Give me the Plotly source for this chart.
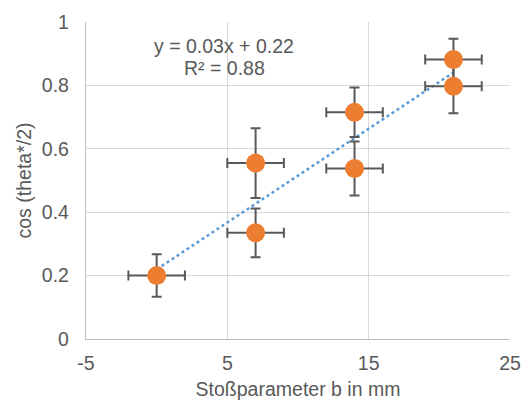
import numpy as np
import plotly.graph_objects as go

b_mm = [0, 7, 7, 14, 14, 21, 21]
cos_half_theta = [0.20, 0.555, 0.335, 0.715, 0.538, 0.882, 0.797]
err_x = [2, 2, 2, 2, 2, 2, 2]
err_y = [0.067, 0.11, 0.077, 0.078, 0.085, 0.065, 0.085]

x_ticks = [-5, 5, 15, 25]
x_tick_labels = ["-5", "5", "15", "25"]
y_ticks = [0, 0.2, 0.4, 0.6, 0.8, 1]
y_tick_labels = ["0", "0.2", "0.4", "0.6", "0.8", "1"]

slope, intercept = np.polyfit(b_mm, cos_half_theta, 1)
pred = np.polyval([slope, intercept], b_mm)
ss_res = np.sum((np.array(cos_half_theta) - pred) ** 2)
ss_tot = np.sum((np.array(cos_half_theta) - np.mean(cos_half_theta)) ** 2)
r2 = 1 - ss_res / ss_tot
x_fit = [min(b_mm), max(b_mm)]
y_fit = [slope * v + intercept for v in x_fit]

text_color = "#595959"
font_family = "Liberation Sans, Arial, sans-serif"

fig = go.Figure()
fig.add_trace(go.Scatter(
    x=x_fit, y=y_fit, mode="lines",
    line=dict(color="#5B9BD5", width=2.5, dash="dot"),
    showlegend=False, hoverinfo="skip",
))
fig.add_trace(go.Scatter(
    x=b_mm, y=cos_half_theta, mode="markers",
    marker=dict(color="#ED7D31", size=19, line=dict(width=0)),
    error_x=dict(type="data", array=err_x, color="#595959", thickness=2, width=5),
    error_y=dict(type="data", array=err_y, color="#595959", thickness=2, width=5),
    showlegend=False,
))

fig.add_annotation(x=4.77, y=0.923, xref="x", yref="y",
                   text=f"y = {slope:.2f}x + {intercept:.2f}", showarrow=False,
                   font=dict(size=19.5, color=text_color, family=font_family))
fig.add_annotation(x=4.77, y=0.854, xref="x", yref="y",
                   text=f"R² = {r2:.2f}", showarrow=False,
                   font=dict(size=19.5, color=text_color, family=font_family))

axis_common = dict(
    showgrid=True, gridcolor="#d9d9d9", gridwidth=1.3,
    showline=True, linecolor="#bfbfbf", linewidth=1.3,
    zeroline=False, mirror=False,
    ticks="outside", tickcolor="rgba(0,0,0,0)",
    tickfont=dict(size=19.5, color=text_color, family=font_family),
    automargin=False, ticklabeloverflow="allow",
)

fig.update_xaxes(range=[-5, 25], tickvals=x_ticks, ticktext=x_tick_labels, ticklen=6,
                 title=dict(text="Stoßparameter b in mm", standoff=9,
                            font=dict(size=19.5, color=text_color, family=font_family)),
                 **axis_common)
fig.update_yaxes(range=[0, 1], tickvals=y_ticks, ticktext=y_tick_labels, ticklen=12,
                 title=dict(text="cos (theta*/2)", standoff=5,
                            font=dict(size=19.5, color=text_color, family=font_family)),
                 **axis_common)

fig.update_layout(
    width=522, height=405,
    margin=dict(l=86, r=12, t=22, b=66, autoexpand=False),
    paper_bgcolor="white", plot_bgcolor="white",
    font=dict(family=font_family, color=text_color),
)

# remove the default 8px page margin so the figure fills the window exactly
fig.write_html(
    "out.html",
    config={"displayModeBar": False},
    post_script="document.body.style.margin='0';document.body.style.overflow='hidden';",
)
